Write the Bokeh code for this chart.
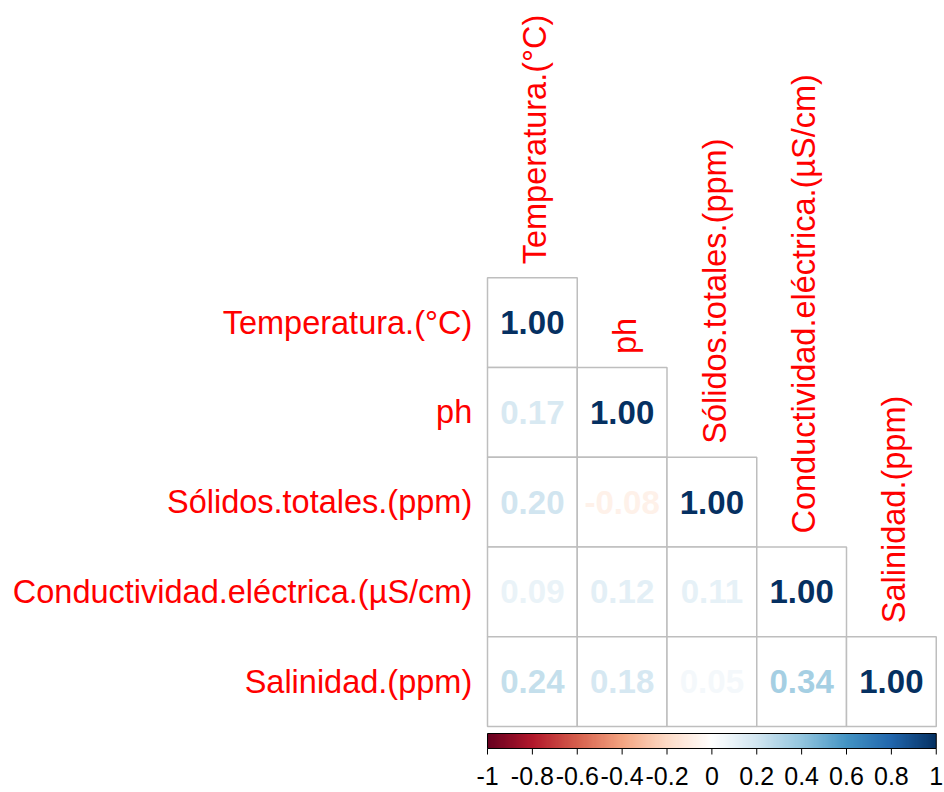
import numpy as np
from bokeh.plotting import figure
from bokeh.models import Range1d, ColumnDataSource
from bokeh.embed import file_html
from bokeh.resources import INLINE
from bokeh.core.properties import value

# ---------------- data ----------------
variables = ["Temperatura.(°C)", "ph", "Sólidos.totales.(ppm)",
             "Conductividad.eléctrica.(µS/cm)", "Salinidad.(ppm)"]
corr_rows = [
    [1.00],
    [0.17, 1.00],
    [0.20, -0.08, 1.00],
    [0.09, 0.12, 0.11, 1.00],
    [0.24, 0.18, 0.05, 0.34, 1.00],
]
cbar_ticks = [-1, -0.8, -0.6, -0.4, -0.2, 0, 0.2, 0.4, 0.6, 0.8, 1]
cbar_tick_labels = ["-1", "-0.8", "-0.6", "-0.4", "-0.2", "0", "0.2", "0.4", "0.6", "0.8", "1"]
rdbu_anchors = ["#67001F", "#B2182B", "#D6604D", "#F4A582", "#FDDBC7", "#FFFFFF",
                "#D1E5F0", "#92C5DE", "#4393C3", "#2166AC", "#053061"]

# ---------------- colour scale ----------------
anchor_rgb = np.array([[int(c[i:i + 2], 16) for i in (1, 3, 5)] for c in rdbu_anchors], float)
anchor_pos = np.linspace(-1, 1, len(rdbu_anchors))


def rdbu_rgb(v):
    return [np.interp(v, anchor_pos, anchor_rgb[:, k]) for k in range(3)]


def rdbu(v):
    r, g, b = rdbu_rgb(v)
    return "#%02x%02x%02x" % (int(round(r)), int(round(g)), int(round(b)))


n = len(variables)
U = 89.75                 # pixels per cell
GX0, GY0 = 487.0, 726.0   # page position of grid's lower-left corner
W, H = 944, 790

p = figure(width=W, height=H, output_backend="svg", toolbar_location=None,
           x_range=Range1d((0 - GX0) / U, (W - GX0) / U),
           y_range=Range1d((GY0 - H) / U, (GY0 - 0) / U),
           min_border=0, min_border_left=0, min_border_right=0,
           min_border_top=0, min_border_bottom=0)
p.axis.visible = False
p.grid.visible = False
p.outline_line_color = None
p.background_fill_color = "white"
p.border_fill_color = "white"

# ---------------- cells ----------------
cx, cy, vals, cols, txt = [], [], [], [], []
for i, row in enumerate(corr_rows):
    for j, v in enumerate(row):
        cx.append(j + 0.5)
        cy.append(n - i - 0.5)
        vals.append(v)
        cols.append(rdbu(v))
        txt.append("%.2f" % v)
src = ColumnDataSource(dict(x=cx, y=cy, v=vals, c=cols, t=txt))
p.rect(x="x", y="y", width=1, height=1, source=src, fill_color="white",
       line_color="#BEBEBE", line_width=1.5)
p.text(x="x", y="y", text="t", source=src, text_color="c",
       text_font=value("Liberation Sans"), text_font_style="bold",
       text_font_size="33px", text_align="center", text_baseline="middle")

# ---------------- labels ----------------
p.text(x=[-0.17] * n, y=[n - i - 0.5 for i in range(n)], text=variables,
       text_color="#FF0000", text_font=value("Liberation Sans"),
       text_font_size="32.5px", text_align="right", text_baseline="middle")
p.text(x=[j + 0.53 for j in range(n)], y=[n - j + 0.15 for j in range(n)], text=variables,
       angle=np.pi / 2, text_color="#FF0000", text_font=value("Liberation Sans"),
       text_font_size="32.5px", text_align="left", text_baseline="middle")

# ---------------- colour bar ----------------
nb = 400
grad = np.linspace(-1, 1, nb)
img = np.zeros((1, nb), dtype=np.uint32)
view = img.view(dtype=np.uint8).reshape((1, nb, 4))
for k, g in enumerate(grad):
    r, gg, b = rdbu_rgb(g)
    view[0, k] = [int(round(r)), int(round(gg)), int(round(b)), 255]
bar_top, bar_bot = (GY0 - 733) / U, (GY0 - 748) / U
p.image_rgba(image=[img], x=0, y=bar_bot, dw=n, dh=bar_top - bar_bot)
p.quad(left=[0], right=[n], top=[bar_top], bottom=[bar_bot], fill_color=None,
       line_color="black", line_width=1)
tick_x = (np.asarray(cbar_ticks) + 1) / 2 * n
p.segment(x0=tick_x, x1=tick_x, y0=bar_bot, y1=bar_bot - 6 / U, line_color="black", line_width=1)
p.text(x=tick_x, y=[(GY0 - 775) / U] * len(cbar_ticks), text=cbar_tick_labels,
       text_color="black", text_font=value("Liberation Sans"), text_font_size="25px",
       text_align="center", text_baseline="middle")

open("out.html", "w").write(file_html(p, INLINE))
